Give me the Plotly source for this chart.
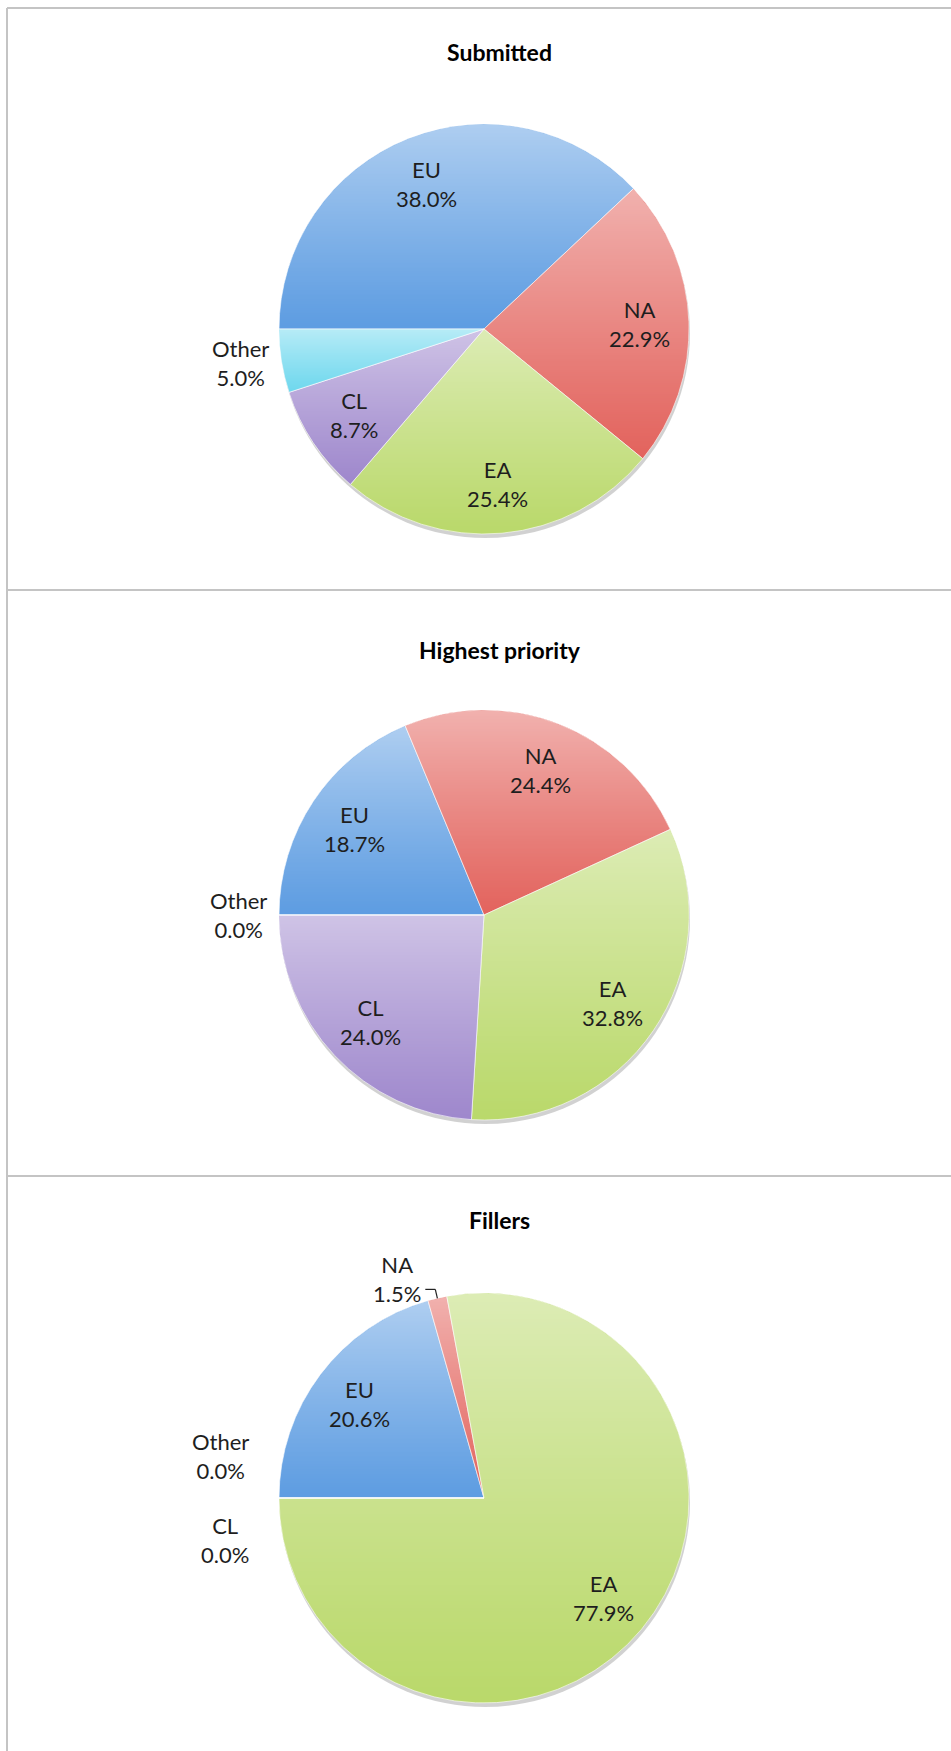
import math
import zlib
import struct
import base64
import numpy as np
import plotly.graph_objects as go

# Share of targets by region for each ranking group
regions = ["EU", "NA", "EA", "CL", "Other"]
submitted = [38.0, 22.9, 25.4, 8.7, 5.0]
highest_priority = [18.7, 24.4, 32.8, 24.0, 0.0]
fillers = [20.6, 1.5, 77.9, 0.0, 0.0]
titles = ["Submitted", "Highest priority", "Fillers"]
groups = [submitted, highest_priority, fillers]

region_colors = ["#5e9de2", "#e3645e", "#bad96b", "#9f88cd", "#6fd8ee"]

W, H = 951, 1751
CX, R = 484, 205
centers_y = [329, 915, 1498]
title_pos = [(500, 52), (500, 650), (500, 1220)]
START = 270  # first slice begins at 9 o'clock, going clockwise

FONT = "Lato, 'Open Sans', sans-serif"
TXT = "#1e1e1e"


def fx(x):
    return x / W


def fy(y):
    return 1 - y / H


def point(cy, ang, r):
    a = math.radians(ang)
    return CX + r * math.sin(a), cy - r * math.cos(a)


def png_data_uri(rgba):
    h, w, _ = rgba.shape
    raw = b"".join(b"\x00" + rgba[r].tobytes() for r in range(h))

    def chunk(tag, data):
        body = tag + data
        return struct.pack(">I", len(data)) + body + struct.pack(">I", zlib.crc32(body) & 0xFFFFFFFF)

    png = (b"\x89PNG\r\n\x1a\n"
           + chunk(b"IHDR", struct.pack(">IIBBBBB", w, h, 8, 6, 0, 0, 0))
           + chunk(b"IDAT", zlib.compress(raw, 9))
           + chunk(b"IEND", b""))
    return "data:image/png;base64," + base64.b64encode(png).decode()


def slice_sheen(vals):
    """White highlight fading from the top of each sector to its bottom."""
    n = 2 * R
    c = np.arange(n) + 0.5 - R
    dx, dy = np.meshgrid(c, c)
    dist = np.hypot(dx, dy)
    ang = (np.degrees(np.arctan2(dx, -dy)) - START) % 360
    total = sum(vals)
    bounds = np.concatenate([[0.0], np.cumsum(vals)]) / total * 360
    idx = np.clip(np.searchsorted(bounds, ang, side="right") - 1, 0, len(vals) - 1)
    top = np.zeros(len(vals))
    bot = np.zeros(len(vals))
    for i in range(len(vals)):
        a = np.radians(START + np.linspace(bounds[i], bounds[i + 1], 240))
        ys = np.concatenate([[0.0], -np.cos(a) * R])
        top[i], bot[i] = ys.min(), ys.max()
    span = np.maximum(bot - top, 1)
    t = np.clip((dy - top[idx]) / span[idx], 0, 1)
    alpha = 0.5 * (1 - t) ** 1.1
    edge = np.clip(R - 0.5 - dist + 0.5, 0, 1)
    rgba = np.zeros((n, n, 4), np.uint8)
    rgba[..., :3] = 255
    rgba[..., 3] = np.round(alpha * edge * 255).astype(np.uint8)
    return png_data_uri(rgba)


fig = go.Figure()
annotations = []
shapes = []
images = []

for g, (vals, title, cy) in enumerate(zip(groups, titles, centers_y)):
    total = sum(vals)
    # soft drop shadow under the pie
    shapes.append(dict(type="circle", xref="paper", yref="paper", layer="below",
                       x0=fx(CX - R + 1), x1=fx(CX + R + 1),
                       y0=fy(cy + R + 4), y1=fy(cy - R + 4),
                       fillcolor="rgba(0,0,0,0.18)", line=dict(width=0)))
    fig.add_trace(go.Pie(
        labels=regions, values=vals, sort=False, direction="clockwise",
        rotation=START - 360, textinfo="none", hoverinfo="label+percent",
        marker=dict(colors=region_colors,
                    line=dict(color="rgba(255,255,255,0.6)", width=1)),
        domain=dict(x=[fx(CX - R), fx(CX + R)], y=[fy(cy + R), fy(cy - R)]),
        showlegend=False,
    ))
    images.append(dict(source=slice_sheen(vals), xref="paper", yref="paper",
                       x=fx(CX - R), y=fy(cy - R), sizex=2 * R / W, sizey=2 * R / H,
                       xanchor="left", yanchor="top", sizing="stretch", layer="above"))

    tx, ty = title_pos[g]
    annotations.append(dict(text=f"<b>{title}</b>", x=fx(tx), y=fy(ty),
                            xref="paper", yref="paper", showarrow=False,
                            xanchor="center", yanchor="middle",
                            font=dict(family=FONT, size=23, color="#000")))

    cum = 0.0
    outside = []
    for i, v in enumerate(vals):
        pct = v / total * 100
        mid = START + 360 * (cum + v / 2) / total
        cum += v
        label = f"{regions[i]}<br>{pct:.1f}%"
        if pct >= 6:
            x, y = point(cy, mid, 0.76 * R)
            annotations.append(dict(text=label, x=fx(x), y=fy(y), xref="paper", yref="paper",
                                    showarrow=False, xanchor="center", yanchor="middle",
                                    align="center", font=dict(family=FONT, size=22, color=TXT)))
        elif 0 < pct < 3:
            # thin slice: label above with an elbow leader line
            ex, ey = point(cy, mid, R)
            bx, by = point(cy, mid, 1.045 * R)
            lx = bx - 10
            shapes.append(dict(type="line", xref="paper", yref="paper",
                               x0=fx(ex), y0=fy(ey), x1=fx(bx), y1=fy(by),
                               line=dict(color="#222", width=1.2)))
            shapes.append(dict(type="line", xref="paper", yref="paper",
                               x0=fx(bx), y0=fy(by), x1=fx(lx), y1=fy(by),
                               line=dict(color="#222", width=1.2)))
            annotations.append(dict(text=label, x=fx(lx - 2), y=fy(by - 10), xref="paper",
                                    yref="paper", showarrow=False, xanchor="right",
                                    yanchor="middle", align="center",
                                    font=dict(family=FONT, size=22, color=TXT)))
        else:
            x, y = point(cy, mid, 1.05 * R)
            outside.append([i, x, y, label])

    # keep stacked outside labels from overlapping (later slices sit higher)
    if len(outside) > 1:
        outside.sort(key=lambda o: o[0])
        for a, b in zip(outside, outside[1:]):
            if abs(a[2] - b[2]) < 70:
                m = (a[2] + b[2]) / 2
                a[2], b[2] = m + 42, m - 42
                a[1] = b[1] = min(a[1], b[1]) - 18
    for i, x, y, label in outside:
        annotations.append(dict(text=label, x=fx(x), y=fy(y), xref="paper", yref="paper",
                                showarrow=False, xanchor="right", yanchor="middle",
                                align="center", font=dict(family=FONT, size=22, color=TXT)))

# panel frame lines
GRID = "#c4c4c4"
shapes.append(dict(type="line", xref="paper", yref="paper", x0=fx(7), x1=fx(7),
                   y0=fy(8), y1=0, line=dict(color=GRID, width=2)))
for yy in (8, 590, 1176):
    shapes.append(dict(type="line", xref="paper", yref="paper", x0=fx(7), x1=1,
                       y0=fy(yy), y1=fy(yy), line=dict(color=GRID, width=2)))

fig.update_layout(width=W, height=H, margin=dict(l=0, r=0, t=0, b=0),
                  paper_bgcolor="white", plot_bgcolor="white",
                  annotations=annotations, shapes=shapes, images=images,
                  showlegend=False)

fig.write_html("out.html")
